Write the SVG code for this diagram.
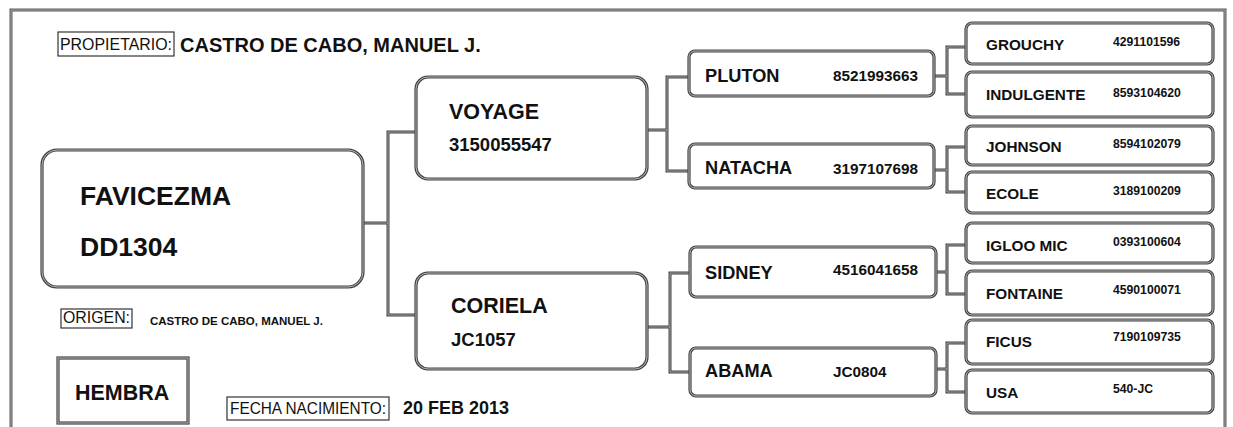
<svg xmlns="http://www.w3.org/2000/svg" width="1233" height="427" viewBox="0 0 1233 427">
<style>
.bo{fill:#fff;stroke:#444;stroke-width:3.2}
.bi{fill:none;stroke:#c4c4c4;stroke-width:0.9}
.c{fill:none;stroke:#444;stroke-width:3}
.ci{fill:none;stroke:#bdbdbd;stroke-width:0.8}
.lab{fill:#fff;stroke:#333;stroke-width:1.2}
text{font-family:"Liberation Sans",Arial,sans-serif;fill:#111}
.b{font-weight:bold}
.n1{font-size:26.5px;font-weight:bold}
.n2{font-size:21.5px;font-weight:bold}
.i2{font-size:18.5px;font-weight:bold}
.n3{font-size:18.2px;font-weight:bold}
.i3{font-size:15.3px;font-weight:bold}
.n4{font-size:15.3px;font-weight:bold}
.i4{font-size:12.2px;font-weight:bold}
.r{font-size:16px}
</style>

<g id="frame">
<path d="M11,427 V10 H1225 V427" fill="none" stroke="#5a5a5a" stroke-width="3"/>
<path d="M11,427 V10 H1225 V427" fill="none" stroke="#bbb" stroke-width="0.8"/>
</g>

<g id="propietario">
<rect class="lab" x="58" y="32" width="116" height="24"/>
<text class="r" x="60" y="50" font-size="17.5" textLength="112" lengthAdjust="spacingAndGlyphs">PROPIETARIO:</text>
<text class="b" x="180" y="52" font-size="20">CASTRO DE CABO, MANUEL J.</text>
</g>

<g id="origen">
<rect class="lab" x="61" y="309" width="71" height="19"/>
<text class="r" x="63" y="323" textLength="67" lengthAdjust="spacingAndGlyphs">ORIGEN:</text>
<text class="b" x="150" y="325" font-size="11.5">CASTRO DE CABO, MANUEL J.</text>
</g>

<g id="sexo">
<rect class="bo" x="58" y="358" width="130" height="65"/>
<rect class="bi" x="58" y="358" width="130" height="65"/>
<text class="b" x="75" y="400" font-size="21.5">HEMBRA</text>
</g>

<g id="fecha">
<rect class="lab" x="227" y="397" width="162" height="23"/>
<text class="r" x="230" y="414" font-size="16.5" textLength="156" lengthAdjust="spacingAndGlyphs">FECHA NACIMIENTO:</text>
<text class="b" x="403" y="414" font-size="18">20 FEB 2013</text>
</g>

<g id="connectors">
<path class="c" d="M363,223 H388 M417,132 H388 V315 H417 M647,130 H667 M689,77 H667 V171 H689 M647,327 H670 M690,273 H670 V372 H690 M934,76 H947 M966,47 H947 V94 H966 M934,170 H947 M966,147 H947 V192 H966 M936,272 H947 M966,245 H947 V294 H966 M936,369 H947 M966,343 H947 V392 H966"/>
<path class="ci" d="M363,223 H388 M417,132 H388 V315 H417 M647,130 H667 M689,77 H667 V171 H689 M647,327 H670 M690,273 H670 V372 H690 M934,76 H947 M966,47 H947 V94 H966 M934,170 H947 M966,147 H947 V192 H966 M936,272 H947 M966,245 H947 V294 H966 M936,369 H947 M966,343 H947 V392 H966"/>
</g>

<g id="favicezma">
<rect class="bo" x="42" y="150" width="321" height="137" rx="15"/>
<rect class="bi" x="42" y="150" width="321" height="137" rx="15"/>
<text class="n1" x="80" y="205">FAVICEZMA</text>
<text class="n1" x="80" y="256">DD1304</text>
</g>

<g id="voyage">
<rect class="bo" x="416" y="77" width="231" height="102" rx="12"/>
<rect class="bi" x="416" y="77" width="231" height="102" rx="12"/>
<text class="n2" x="449" y="119">VOYAGE</text>
<text class="i2" x="449" y="151">3150055547</text>
</g>

<g id="coriela">
<rect class="bo" x="416" y="273" width="231" height="96" rx="12"/>
<rect class="bi" x="416" y="273" width="231" height="96" rx="12"/>
<text class="n2" x="451" y="313">CORIELA</text>
<text class="i2" x="451" y="346">JC1057</text>
</g>

<g id="pluton">
<rect class="bo" x="689" y="51" width="245" height="45" rx="6"/>
<rect class="bi" x="689" y="51" width="245" height="45" rx="6"/>
<text class="n3" x="705" y="82">PLUTON</text>
<text class="i3" x="833" y="81">8521993663</text>
</g>

<g id="natacha">
<rect class="bo" x="689" y="144" width="245" height="44" rx="6"/>
<rect class="bi" x="689" y="144" width="245" height="44" rx="6"/>
<text class="n3" x="705" y="174">NATACHA</text>
<text class="i3" x="833" y="174">3197107698</text>
</g>

<g id="sidney">
<rect class="bo" x="690" y="247" width="246" height="50" rx="6"/>
<rect class="bi" x="690" y="247" width="246" height="50" rx="6"/>
<text class="n3" x="705" y="279">SIDNEY</text>
<text class="i3" x="833" y="275">4516041658</text>
</g>

<g id="abama">
<rect class="bo" x="690" y="348" width="246" height="48" rx="6"/>
<rect class="bi" x="690" y="348" width="246" height="48" rx="6"/>
<text class="n3" x="705" y="377">ABAMA</text>
<text class="i3" x="833" y="377">JC0804</text>
</g>

<g id="grouchy">
<rect class="bo" x="966" y="23" width="247" height="41" rx="6"/>
<rect class="bi" x="966" y="23" width="247" height="41" rx="6"/>
<text class="n4" x="986" y="50">GROUCHY</text>
<text class="i4" x="1113" y="46">4291101596</text>
</g>

<g id="indulgente">
<rect class="bo" x="966" y="72" width="247" height="45" rx="6"/>
<rect class="bi" x="966" y="72" width="247" height="45" rx="6"/>
<text class="n4" x="986" y="100">INDULGENTE</text>
<text class="i4" x="1113" y="97">8593104620</text>
</g>

<g id="johnson">
<rect class="bo" x="966" y="126" width="247" height="39" rx="6"/>
<rect class="bi" x="966" y="126" width="247" height="39" rx="6"/>
<text class="n4" x="986" y="152">JOHNSON</text>
<text class="i4" x="1113" y="148">8594102079</text>
</g>

<g id="ecole">
<rect class="bo" x="966" y="172" width="247" height="41" rx="6"/>
<rect class="bi" x="966" y="172" width="247" height="41" rx="6"/>
<text class="n4" x="986" y="199">ECOLE</text>
<text class="i4" x="1113" y="195">3189100209</text>
</g>

<g id="igloomic">
<rect class="bo" x="966" y="223" width="247" height="40" rx="6"/>
<rect class="bi" x="966" y="223" width="247" height="40" rx="6"/>
<text class="n4" x="986" y="251">IGLOO MIC</text>
<text class="i4" x="1113" y="246">0393100604</text>
</g>

<g id="fontaine">
<rect class="bo" x="966" y="271" width="247" height="44" rx="6"/>
<rect class="bi" x="966" y="271" width="247" height="44" rx="6"/>
<text class="n4" x="986" y="299">FONTAINE</text>
<text class="i4" x="1113" y="294">4590100071</text>
</g>

<g id="ficus">
<rect class="bo" x="966" y="320" width="247" height="44" rx="6"/>
<rect class="bi" x="966" y="320" width="247" height="44" rx="6"/>
<text class="n4" x="986" y="347">FICUS</text>
<text class="i4" x="1113" y="341">7190109735</text>
</g>

<g id="usa">
<rect class="bo" x="966" y="370" width="247" height="43" rx="6"/>
<rect class="bi" x="966" y="370" width="247" height="43" rx="6"/>
<text class="n4" x="986" y="398">USA</text>
<text class="i4" x="1113" y="393">540-JC</text>
</g>
</svg>
